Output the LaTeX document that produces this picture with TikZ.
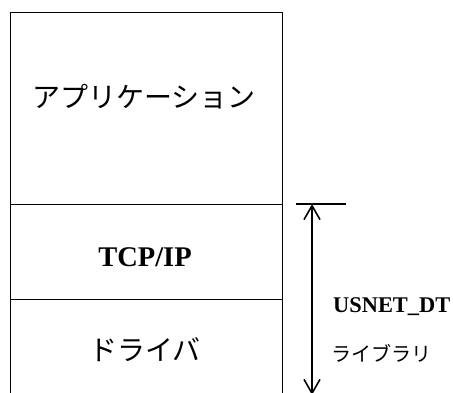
\documentclass[tikz,border=0pt]{standalone}
\usepackage{fontspec}
\setmainfont{Liberation Serif}
\newfontfamily\jp{Noto Sans CJK JP}
\usetikzlibrary{arrows.meta}
\begin{document}
\begin{tikzpicture}[x=1pt,y=1pt,
  layer/.style={draw, line width=0.9pt, minimum width=272pt, inner sep=0pt, anchor=north west},
  jptext/.style={font=\jp\fontsize{28}{32}\selectfont},
  entext/.style={font=\bfseries\fontsize{28.5}{32}\selectfont},
  barb/.tip={Straight Barb[length=14pt,width=16pt,line width=1.6pt]}]
\useasboundingbox (0,0) rectangle (453,392);
\clip (0,0) rectangle (453,392);
\node[layer, minimum height=192pt] (app) at (10,380) {};
\node[layer, minimum height=95pt] (tcp) at (10,188) {};
\node[layer, minimum height=105pt] (drv) at (10,93) {};
\node[jptext] (apptext) at (144,295) {アプリケーション};
\node[entext] (tcptext) at (145,135) {TCP/IP};
\node[jptext] (drvtext) at (145,42) {ドライバ};
\coordinate (tickl) at (296,188);
\coordinate (tickr) at (346,188);
\coordinate (atop) at (312,188);
\coordinate (abot) at (312,-3);
\draw[line width=1.6pt] (tickl) -- (tickr);
\draw[line width=1.6pt, barb-barb] (atop) -- (abot);
\node[font=\bfseries\fontsize{22.4}{27}\selectfont, anchor=west, inner sep=0pt] (lib1) at (333,85) {USNET\_DT};
\node[font=\jp\fontsize{20}{24}\selectfont, anchor=west, inner sep=0pt] (lib2) at (331,39) {ライブラリ};
\end{tikzpicture}
\end{document}
